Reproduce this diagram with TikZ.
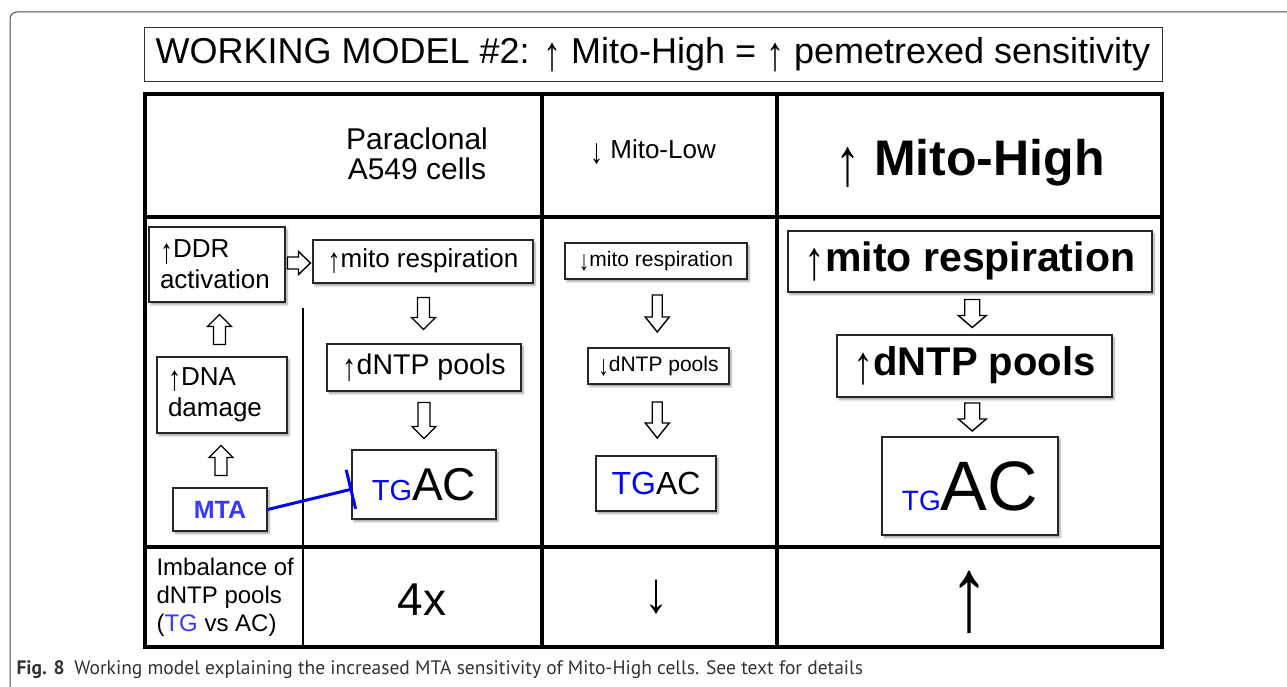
\documentclass[tikz,border=0pt]{standalone}
\usepackage{fontspec}
\usepackage{graphicx}
\setmainfont{Liberation Sans}
\newfontfamily\captionfont{PT Sans}
\usetikzlibrary{arrows.meta,calc,shadows.blur}
\definecolor{tgblue}{RGB}{0,0,255}
\definecolor{mtablue}{RGB}{55,55,255}
\newcommand\upar{\raisebox{-0.2em}{\scalebox{1}[1.35]{↑}}}
\newcommand\dnar{\raisebox{-0.2em}{\scalebox{1}[1.35]{↓}}}
\tikzset{
  pics/blockarrow/.style n args={4}{code={
    \draw[line width=1.4pt,fill=white,line join=miter]
      (-#2,{-#1/2}) -- (-#2,{#1/2-#4}) -- (-#3,{#1/2-#4}) -- (0,{#1/2})
      -- (#3,{#1/2-#4}) -- (#2,{#1/2-#4}) -- (#2,{-#1/2}) -- cycle;}}}
\begin{document}
\begin{tikzpicture}[x=1pt,y=-1pt,
  fs/.style 2 args={font=\fontsize{#1}{#2}\selectfont},
  rule/.style={line width=3.2pt},
  box/.style={draw=black!85,line width=1.3pt,fill=white,inner sep=0pt,
    blur shadow={shadow xshift=2pt,shadow yshift=-2.5pt,shadow blur radius=2pt,shadow opacity=40}},
  lbox/.style={box,align=left,inner xsep=11pt},
  inhib/.style={tgblue,line width=3pt,-{Bar[width=40pt]}}]
\useasboundingbox (0,0) rectangle (1287,687);
\draw[black!70,line width=1pt,rounded corners=7pt] (10,700) -- (10,12) -- (1300,12);
\node[draw=black!80,line width=1pt,minimum width=1018pt,minimum height=54pt,fs={36}{40}] (title) at (653,55) {WORKING MODEL \#2: \upar\ Mito-High = \upar\ pemetrexed sensitivity};
% table frame
\draw[rule] (145,94) rectangle (1162,647);
\draw[rule] (145,217) -- (1162,217) (145,547) -- (1162,547);
\draw[rule] (542,94) -- (542,647) (777,94) -- (777,647);
\draw[line width=2.6pt] (303,308) -- (303,647);
% column heads
\node[fs={30}{30},align=center] (para) at (417,154) {Paraclonal\\A549 cells};
\node[fs={26}{28}] (low) at (653,152) {\dnar\ Mito-Low};
\node[fs={50}{50}] (high) at (970,163) {\upar\ \textbf{Mito-High}};
% paraclonal cells
\node[lbox,text width=114pt,minimum height=75pt,fs={26}{31}] (ddr) at (217,264.5) {\upar DDR\\activation};
\node[lbox,text width=108pt,minimum height=76pt,fs={26}{31}] (dna) at (222,395) {\upar DNA\\damage};
\node[box,minimum width=94pt,minimum height=43pt,fs={25}{30},text=mtablue] (mta) at (220,509.5) {\textbf{MTA}};
\node[box,minimum width=220pt,minimum height=43pt,fs={26}{31}] (mitoP) at (423,261.5) {\upar mito respiration};
\node[box,minimum width=194pt,minimum height=47pt,fs={28.5}{31}] (dntpP) at (424,367.5) {\upar dNTP pools};
\node[box,minimum width=144pt,minimum height=69pt] (tgacP) at (424,484.5) {\fontsize{29}{29}\selectfont\textcolor{tgblue}{TG}\fontsize{46}{46}\selectfont AC};
\pic[rotate=90] at ($(ddr.east)!0.5!(mitoP.west)$) {blockarrow={23}{6}{11.5}{12}};
\pic[rotate=180] at ($(dna.north)!0.5!(ddr.south)$) {blockarrow={30}{6}{12}{12}};
\pic[rotate=180] at ($(mta.north)!0.5!(dna.south)$) {blockarrow={30}{6}{12}{12}};
\pic at ($(mitoP.south)!0.5!(dntpP.north)$) {blockarrow={32}{6}{12}{12}};
\pic at ($(dntpP.south)!0.5!(tgacP.north)$) {blockarrow={36}{6}{12}{12}};
\coordinate (blk) at ($(tgacP.west)+(1,4.5)$);
\draw[inhib] (mta.east) -- (blk);
% mito-low cells
\node[box,minimum width=182pt,minimum height=36pt,fs={21}{25}] (mitoL) at (656,261) {\dnar mito respiration};
\node[box,minimum width=141pt,minimum height=36pt,fs={21}{25}] (dntpL) at (658.5,366) {\dnar dNTP pools};
\node[box,minimum width=120pt,minimum height=55pt,fs={32}{36}] (tgacL) at (656,483.5) {\textcolor{tgblue}{TG}AC};
\pic at ($(mitoL.south)!0.5!(dntpL.north)$) {blockarrow={37}{5}{12}{15}};
\pic at ($(dntpL.south)!0.5!(tgacL.north)$) {blockarrow={36}{5}{12}{15}};
% mito-high cells
\node[box,minimum width=364pt,minimum height=61pt,fs={41}{45}] (mitoH) at (970,261.5) {\upar\textbf{mito respiration}};
\node[box,minimum width=275pt,minimum height=62pt,fs={40}{44}] (dntpH) at (974.5,366) {\upar\textbf{dNTP pools}};
\node[box,minimum width=176pt,minimum height=98pt] (tgacH) at (970,486) {\fontsize{28}{28}\selectfont\textcolor{tgblue}{TG}\fontsize{70}{70}\selectfont AC};
\pic at ($(mitoH.south)!0.5!(dntpH.north)$) {blockarrow={28}{7.5}{14}{12}};
\pic at ($(dntpH.south)!0.5!(tgacH.north)$) {blockarrow={28}{7.5}{14}{12}};
% imbalance row
\node[fs={24}{28},align=left,anchor=west] (imbal) at (153,597) {Imbalance of\\dNTP pools\\(\textcolor{mtablue}{TG} vs AC)};
\node[fs={46}{50}] (ratioP) at (422,600) {4x};
\node[fs={48}{50}] (ratioL) at (656,597) {\scalebox{1}[1.2]{↓}};
\node[fs={80}{84}] (ratioH) at (969,602) {\scalebox{1}[1.32]{↑}};
\node[anchor=west,fs={19.5}{22},text=black!80] (cap) at (13,670) {\captionfont\textbf{Fig. 8}\hspace{0.5em}Working model explaining the increased MTA sensitivity of Mito-High cells. See text for details};
\end{tikzpicture}
\end{document}
